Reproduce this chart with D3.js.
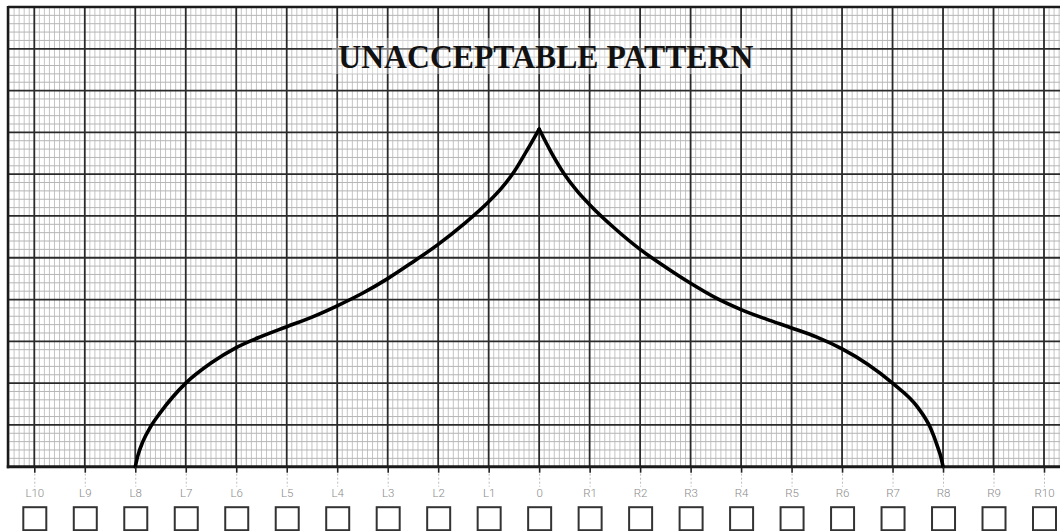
<!DOCTYPE html>
<html>
<head>
<meta charset="utf-8">
<script src="https://cdn.jsdelivr.net/npm/d3@7"></script>
<style>
  html, body { margin: 0; padding: 0; background: #fff; }
  svg { display: block; }
</style>
</head>
<body>
<svg id="chart" width="1060" height="531"></svg>
<script>
// ---- data ----
const title = "UNACCEPTABLE PATTERN";
const tickValues = [-10,-9,-8,-7,-6,-5,-4,-3,-2,-1,0,1,2,3,4,5,6,7,8,9,10];
const tickLabels = ["L10","L9","L8","L7","L6","L5","L4","L3","L2","L1","0",
                    "R1","R2","R3","R4","R5","R6","R7","R8","R9","R10"];
// left branch (L8 -> peak)
const leftX = [-8.00,-7.95,-7.85,-7.70,-7.50,-7.00,-6.50,-6.00,-5.50,-5.00,-4.50,-4.00,-3.50,-3.00,-2.50,-2.00,-1.50,-1.00,-0.75,-0.50,-0.25,0.00];
const leftY = [0.00, 0.26, 0.60, 0.95, 1.30, 2.00, 2.48, 2.85, 3.12, 3.35, 3.58, 3.85, 4.15, 4.50, 4.90, 5.32, 5.80, 6.34, 6.66, 7.05, 7.55, 8.08];
// right branch (peak -> R8)
const rightX = [0.00,0.25,0.50,0.75,1.00,1.50,2.00,2.50,3.00,3.50,4.00,4.50,5.00,5.50,6.00,6.50,7.00,7.50,7.75,7.90,7.96,8.00];
const rightY = [8.08,7.50,7.00,6.60,6.27,5.70,5.20,4.78,4.39,4.04,3.76,3.53,3.32,3.10,2.82,2.46,2.00,1.42,0.93,0.45,0.22,0.00];

// ---- layout ----
const svg = d3.select("#chart");
const x = d3.scaleLinear().domain([-10, 10]).range([34.3, 1044]);
const y = d3.scaleLinear().domain([0, 11]).range([466.7, 7]);
const xMin = x.invert(8), xMax = x.invert(1075);

const grid = svg.append("g");
// minor verticals (every 0.1)
const minorX = d3.range(Math.ceil(xMin * 10), Math.floor(xMax * 10) + 1).map(d => d / 10)
  .filter(d => Math.abs(d - Math.round(d)) > 1e-6);
grid.selectAll(".mvx").data(minorX).join("line")
  .attr("x1", d => x(d)).attr("x2", d => x(d))
  .attr("y1", y(11)).attr("y2", y(0))
  .attr("stroke", "#bdbdbd").attr("stroke-width", 0.9);
// minor horizontals (every 0.2)
const minorY = d3.range(1, 55).map(d => d / 5).filter(d => Math.abs(d - Math.round(d)) > 1e-6);
grid.selectAll(".mhy").data(minorY).join("line")
  .attr("x1", 8).attr("x2", 1075)
  .attr("y1", d => y(d)).attr("y2", d => y(d))
  .attr("stroke", "#b5b5b5").attr("stroke-width", 1);

// title backdrop
const tcx = 545.8;
svg.append("rect").attr("x", 332).attr("y", 38).attr("width", 428).attr("height", 36)
  .attr("fill", "#fff").attr("opacity", 0.4);

// major verticals
const majorX = d3.range(Math.ceil(xMin), Math.floor(xMax) + 1);
grid.selectAll(".Mvx").data(majorX).join("line")
  .attr("x1", d => x(d)).attr("x2", d => x(d))
  .attr("y1", y(11)).attr("y2", y(0))
  .attr("stroke", "#2a2a2a").attr("stroke-width", 1.8);
// major horizontals
grid.selectAll(".Mhy").data(d3.range(1, 11)).join("line")
  .attr("x1", 8).attr("x2", 1075)
  .attr("y1", d => y(d)).attr("y2", d => y(d))
  .attr("stroke", "#2a2a2a").attr("stroke-width", 1.8);

// frame
svg.append("line").attr("x1", 8).attr("x2", 1075).attr("y1", y(11)).attr("y2", y(11))
  .attr("stroke", "#1a1a1a").attr("stroke-width", 2.5);
svg.append("line").attr("x1", 8).attr("x2", 8).attr("y1", y(11) - 1).attr("y2", y(0) + 1.5)
  .attr("stroke", "#1a1a1a").attr("stroke-width", 2.5);
svg.append("line").attr("x1", 6.8).attr("x2", 1075).attr("y1", y(0)).attr("y2", y(0))
  .attr("stroke", "#1a1a1a").attr("stroke-width", 3);

// title
svg.append("text").attr("x", tcx).attr("y", 67.5)
  .attr("text-anchor", "middle")
  .attr("font-family", "'Liberation Serif', 'Times New Roman', serif")
  .attr("font-weight", "bold").attr("font-size", 33)
  .attr("textLength", 415).attr("lengthAdjust", "spacingAndGlyphs")
  .attr("fill", "#111").text(title);

// curve: two branches meeting in a cusp at the peak
const line = d3.line().x(d => x(d[0])).y(d => y(d[1])).curve(d3.curveMonotoneX);
const branches = [
  leftX.map((d, i) => [d, leftY[i]]),
  rightX.map((d, i) => [d, rightY[i]])
];
svg.append("g").selectAll("path").data(branches).join("path")
  .attr("d", line)
  .attr("fill", "none").attr("stroke", "#000").attr("stroke-width", 3.6)
  .attr("stroke-linejoin", "round").attr("stroke-linecap", "round");

// bottom axis
const axis = d3.axisBottom(x).tickValues(tickValues)
  .tickFormat((d, i) => tickLabels[i]).tickSize(6).tickPadding(0);
const ag = svg.append("g").attr("transform", `translate(0,${y(0)})`).call(axis);
ag.select(".domain").remove();
ag.selectAll(".tick line").attr("stroke", "#222").attr("stroke-width", 1.6);
ag.selectAll(".tick").append("line")
  .attr("x1", 0).attr("x2", 0).attr("y1", 7).attr("y2", 20)
  .attr("stroke", "#bbb").attr("stroke-width", 1).attr("stroke-dasharray", "2,2");
ag.selectAll(".tick text")
  .attr("y", 26.5).attr("dy", "0.35em")
  .attr("font-family", "Roboto, 'DejaVu Sans', sans-serif")
  .attr("font-weight", 300).attr("font-size", 11.5).attr("fill", "#8a8a8a");
ag.selectAll(".tick").append("rect")
  .attr("x", -11.5).attr("y", 40.5).attr("width", 23).attr("height", 23)
  .attr("fill", "none").attr("stroke", "#333").attr("stroke-width", 2);
</script>
</body>
</html>
